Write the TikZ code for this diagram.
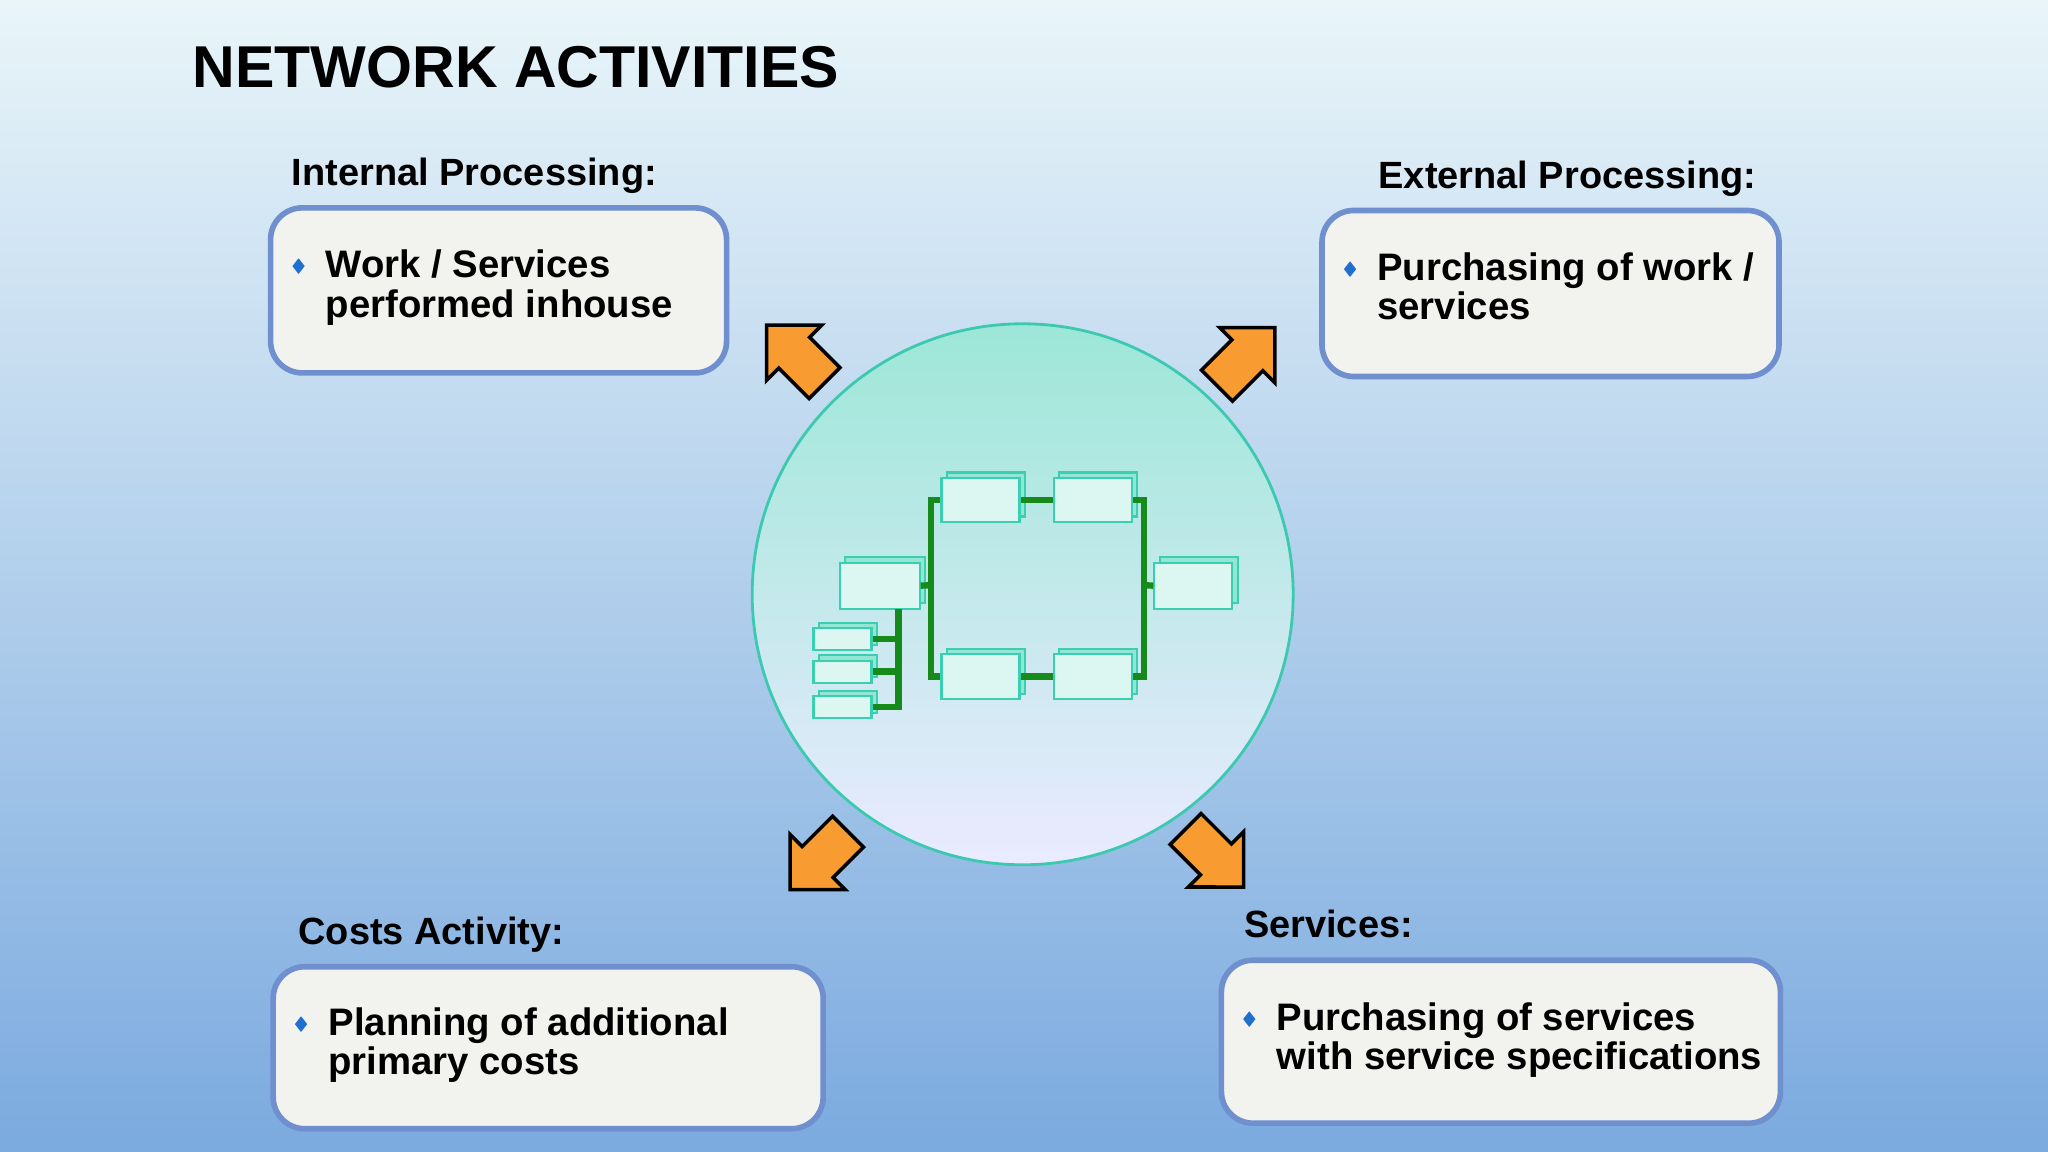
\documentclass[tikz,border=0pt]{standalone}
\usepackage{fontspec}
\setmainfont{Liberation Sans}
\usepackage{amssymb}
\usetikzlibrary{shapes,arrows,positioning,shadows}
\definecolor{bgtop}{HTML}{E9F5F9}
\definecolor{bgbot}{HTML}{7BAADF}
\definecolor{boxline}{HTML}{6F8FCF}
\definecolor{boxfill}{HTML}{F2F3EE}
\definecolor{bul}{HTML}{1F6FD0}
\definecolor{ring}{HTML}{3CC9B0}
\definecolor{orng}{HTML}{F89B30}
\definecolor{lgreen}{HTML}{168A1A}
\definecolor{blk}{HTML}{3ACFB0}

\begin{document}
\begin{tikzpicture}[x=0.01306cm,y=-0.01306cm,
    box/.style={draw=boxline, line width=1.6pt, fill=boxfill, rounded corners=9pt, anchor=north west},
    head/.style={anchor=base west, inner sep=0pt, font=\bfseries\fontsize{10.8}{12}\selectfont},
    txt/.style={anchor=north west, align=left, inner sep=0pt, font=\bfseries\fontsize{10.9}{11.2}\selectfont},
    bull/.style={left=5pt of #1.north west, yshift=-5pt, inner sep=0pt, text=bul, font=\tiny},
    arr/.style={single arrow, draw=black, line width=1pt, fill=orng, minimum height=0.82cm, minimum width=0.78cm, single arrow head extend=0.1cm, inner sep=0.11cm},
    node/.style={draw=blk, fill=blk!18, line width=0.6pt, inner sep=0pt, anchor=north west,
      copy shadow={shadow xshift=1.5pt, shadow yshift=1.5pt, fill=blk!55, draw=blk}},
    link/.style={draw=lgreen, line width=1.8pt}]
  \useasboundingbox (0,0) rectangle (1568,882);
  \shade[top color=bgtop, bottom color=bgbot] (0,0) rectangle (1568,882);

  \node[anchor=base west, inner sep=0pt, font=\bfseries\fontsize{16.8}{18}\selectfont] (title) at (147,67) {NETWORK ACTIVITIES};

  % boxes
  \node[box, minimum width=4.56cm, minimum height=1.65cm] (int) at (205,157) {};
  \node[box, minimum width=4.57cm, minimum height=1.66cm] (ext) at (1010,159) {};
  \node[box, minimum width=5.50cm, minimum height=1.62cm] (cost) at (207,738) {};
  \node[box, minimum width=5.59cm, minimum height=1.63cm] (serv) at (933,733) {};

  \node[head] (inth) at (223,142) {Internal Processing:};
  \node[head] (exth) at (1055,144) {External Processing:};
  \node[head] (costh) at (228,723) {Costs Activity:};
  \node[head] (servh) at (952,718) {Services:};

  \node[txt] (intt) at (249,191) {Work / Services\\performed inhouse};
  \node[txt] (extt) at (1054,193) {Purchasing of work /\\services};
  \node[txt] (costt) at (251,771) {Planning of additional\\primary costs};
  \node[txt] (servt) at (977,767) {Purchasing of services\\with service specifications};
  \foreach \t in {intt,extt,costt,servt}
    \node[bull=\t] {$\blacklozenge$};

  % centre
  \node[circle, draw=ring, line width=0.8pt, top color=blk!50!white, bottom color=blue!8!white, minimum size=5.41cm] (hub) at (783,455) {};

  \node[arr, rotate=135] (a1) at (615,277) {};
  \node[arr, rotate=45] (a2) at (948,279) {};
  \node[arr, rotate=225] (a3) at (633,653) {};
  \node[arr, rotate=-45] (a4) at (924,651) {};

  % network
  \node[node, minimum width=0.78cm, minimum height=0.44cm] (n1) at (720,365) {};
  \node[node, minimum width=0.78cm, minimum height=0.44cm] (n2) at (806,365) {};
  \node[node, minimum width=0.80cm, minimum height=0.46cm] (n0) at (642,430) {};
  \node[node, minimum width=0.78cm, minimum height=0.46cm] (n5) at (883,430) {};
  \node[node, minimum width=0.78cm, minimum height=0.45cm] (n3) at (720,500) {};
  \node[node, minimum width=0.78cm, minimum height=0.45cm] (n4) at (806,500) {};
  \node[node, minimum width=0.58cm, minimum height=0.22cm] (s1) at (622,480) {};
  \node[node, minimum width=0.58cm, minimum height=0.22cm] (s2) at (622,505) {};
  \node[node, minimum width=0.58cm, minimum height=0.22cm] (s3) at (622,532) {};

  \coordinate (jl) at (713,448);
  \coordinate (jr) at (876,448);
  \coordinate (js) at (688,466);
  \draw[link] (n1.west) -| (jl) |- (n3.west);
  \draw[link] (n0.east) -- (jl);
  \draw[link] (n1.east) -- (n2.west);
  \draw[link] (n3.east) -- (n4.west);
  \draw[link] (n2.east) -| (jr) |- (n4.east);
  \draw[link] (n5.west) -- (jr);
  \draw[link] (js) |- (s3.east);
  \draw[link] (s1.east) -- (s1.east -| js);
  \draw[link] (s2.east) -- (s2.east -| js);
\end{tikzpicture}
\end{document}
